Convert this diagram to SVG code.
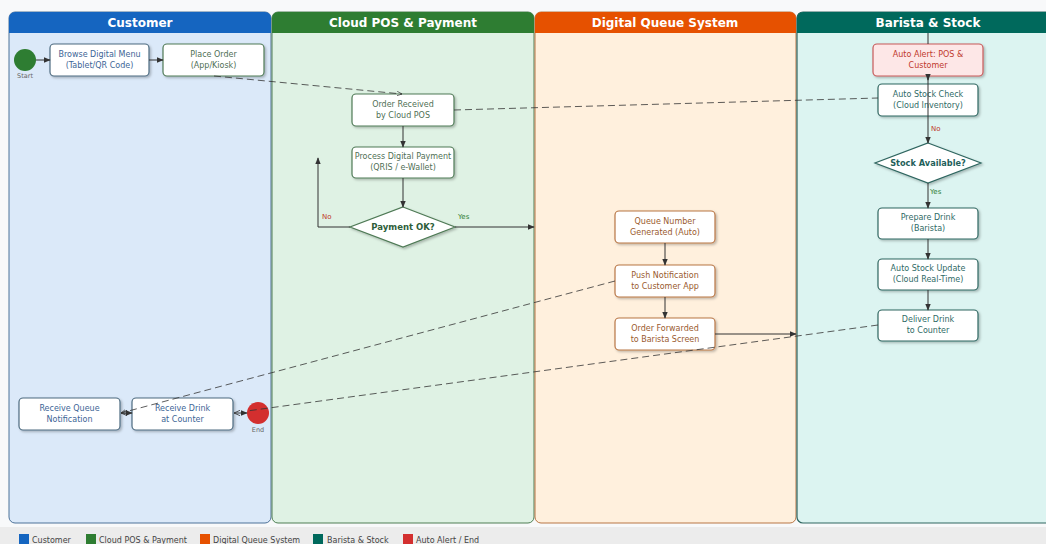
<svg xmlns="http://www.w3.org/2000/svg" width="1046" height="544" viewBox="0 0 1046 544">
  <defs>
    <style>
      text { font-family: "DejaVu Sans", "Liberation Sans", sans-serif; }
      .hdr { font-size: 12px; font-weight: bold; fill: #ffffff; text-anchor: middle; }
      .lbl { font-size: 8px; text-anchor: middle; }
      .small { font-size: 6.5px; fill: #666; text-anchor: middle; }
      .node { fill: #ffffff; stroke-width: 1.2; filter: url(#shadow); }
      .cust { stroke: #4d6b80; }
      .cust-t { fill: #3d6596; }
      .pos { stroke: #4f7a56; }
      .pos-t { fill: #4f6f55; }
      .que { stroke: #b87645; }
      .que-t { fill: #9a5a2e; }
      .bar { stroke: #2f6660; }
      .bar-t { fill: #2f6a66; }
      .alert { fill: #fde7e7; stroke: #c75a5a; }
      .alert-t { fill: #c0392b; }
      .flow { stroke: #333; stroke-width: 1; fill: none; }
      .dash { stroke: #333; stroke-width: 0.8; fill: none; stroke-dasharray: 7 4; }
      .leg { font-size: 8px; fill: #444; }
    </style>
    <marker id="arr" viewBox="0 0 10 10" refX="9" refY="5" markerWidth="7" markerHeight="7" orient="auto-start-reverse">
      <path d="M0,1 L10,5 L0,9 Z" fill="#333"/>
    </marker>
    <marker id="open" viewBox="0 0 10 10" refX="9" refY="5" markerWidth="7" markerHeight="7" orient="auto-start-reverse">
      <path d="M0,1 L9,5 L0,9" fill="none" stroke="#333" stroke-width="1.2"/>
    </marker>
    <filter id="shadow" x="-10%" y="-10%" width="130%" height="140%">
      <feDropShadow dx="1.5" dy="1.5" stdDeviation="0.8" flood-color="#000" flood-opacity="0.25"/>
    </filter>
  </defs>

  <rect x="0" y="0" width="1046" height="544" fill="#f8f9fa"/>

  <!-- swimlanes -->
  <g id="lane-customer">
    <rect x="9" y="12" width="262" height="511" rx="6" fill="#dbe9f9" stroke="#4d7299" stroke-width="1"/>
    <path d="M9,33 V18 a6,6 0 0 1 6,-6 H265 a6,6 0 0 1 6,6 V33 Z" fill="#1565c0"/>
    <text class="hdr" x="140" y="27">Customer</text>
  </g>
  <g id="lane-pos">
    <rect x="272" y="12" width="262" height="511" rx="6" fill="#dff2e4" stroke="#4f7f55" stroke-width="1"/>
    <path d="M272,33 V18 a6,6 0 0 1 6,-6 H528 a6,6 0 0 1 6,6 V33 Z" fill="#2e7d32"/>
    <text class="hdr" x="403" y="27">Cloud POS &amp; Payment</text>
  </g>
  <g id="lane-queue">
    <rect x="535" y="12" width="261" height="511" rx="6" fill="#fff0dd" stroke="#b87645" stroke-width="1"/>
    <path d="M535,33 V18 a6,6 0 0 1 6,-6 H790 a6,6 0 0 1 6,6 V33 Z" fill="#e65100"/>
    <text class="hdr" x="665" y="27">Digital Queue System</text>
  </g>
  <g id="lane-barista">
    <rect x="797" y="12" width="262" height="511" rx="6" fill="#dcf4f1" stroke="#2f6660" stroke-width="1.2"/>
    <path d="M797,33 V18 a6,6 0 0 1 6,-6 H1053 V33 Z" fill="#00695c"/>
    <text class="hdr" x="928" y="27">Barista &amp; Stock</text>
  </g>

  <!-- customer lane nodes -->
  <g id="start">
    <circle cx="25" cy="60" r="11" fill="#2e7d32"/>
    <text class="small" x="25" y="78">Start</text>
  </g>
  <g id="browse-menu">
    <rect class="node cust" x="50" y="44" width="99" height="32" rx="4"/>
    <text class="lbl cust-t" x="99.5" y="57">Browse Digital Menu</text>
    <text class="lbl cust-t" x="99.5" y="68">(Tablet/QR Code)</text>
  </g>
  <g id="place-order">
    <rect class="node pos" x="163" y="44" width="101" height="32" rx="4"/>
    <text class="lbl pos-t" x="213.5" y="57">Place Order</text>
    <text class="lbl pos-t" x="213.5" y="68">(App/Kiosk)</text>
  </g>
  <g id="receive-queue">
    <rect class="node cust" x="19" y="398" width="101" height="32" rx="4"/>
    <text class="lbl cust-t" x="69.5" y="411">Receive Queue</text>
    <text class="lbl cust-t" x="69.5" y="422">Notification</text>
  </g>
  <g id="receive-drink">
    <rect class="node cust" x="132" y="398" width="101" height="32" rx="4"/>
    <text class="lbl cust-t" x="182.5" y="411">Receive Drink</text>
    <text class="lbl cust-t" x="182.5" y="422">at Counter</text>
  </g>
  <g id="end">
    <circle cx="258" cy="413" r="11" fill="#d32f2f"/>
    <text class="small" x="258" y="432">End</text>
  </g>

  <!-- cloud POS lane nodes -->
  <g id="order-received">
    <rect class="node pos" x="352" y="94" width="102" height="32" rx="4"/>
    <text class="lbl pos-t" x="403" y="107">Order Received</text>
    <text class="lbl pos-t" x="403" y="118">by Cloud POS</text>
  </g>
  <g id="process-payment">
    <rect class="node pos" x="352" y="147" width="102" height="31" rx="4"/>
    <text class="lbl pos-t" x="403" y="159">Process Digital Payment</text>
    <text class="lbl pos-t" x="403" y="170">(QRIS / e-Wallet)</text>
  </g>
  <g id="payment-ok">
    <polygon class="node pos" points="403,207 455,227 403,247 350,227"/>
    <text x="403" y="230" font-size="8.5" font-weight="bold" fill="#2e5e3a" text-anchor="middle">Payment OK?</text>
  </g>

  <!-- queue lane nodes -->
  <g id="queue-number">
    <rect class="node que" x="615" y="211" width="100" height="32" rx="4"/>
    <text class="lbl que-t" x="665" y="224">Queue Number</text>
    <text class="lbl que-t" x="665" y="235">Generated (Auto)</text>
  </g>
  <g id="push-notification">
    <rect class="node que" x="615" y="265" width="100" height="32" rx="4"/>
    <text class="lbl que-t" x="665" y="278">Push Notification</text>
    <text class="lbl que-t" x="665" y="289">to Customer App</text>
  </g>
  <g id="order-forwarded">
    <rect class="node que" x="615" y="318" width="100" height="32" rx="4"/>
    <text class="lbl que-t" x="665" y="331">Order Forwarded</text>
    <text class="lbl que-t" x="665" y="342">to Barista Screen</text>
  </g>

  <!-- barista lane nodes -->
  <g id="auto-alert">
    <rect class="node alert" x="873" y="44" width="110" height="32" rx="4"/>
    <text class="lbl alert-t" x="928" y="57">Auto Alert: POS &amp;</text>
    <text class="lbl alert-t" x="928" y="68">Customer</text>
  </g>
  <g id="stock-check">
    <rect class="node bar" x="878" y="84" width="100" height="32" rx="4"/>
    <text class="lbl bar-t" x="928" y="97">Auto Stock Check</text>
    <text class="lbl bar-t" x="928" y="108">(Cloud Inventory)</text>
  </g>
  <g id="stock-available">
    <polygon class="node bar" points="928,143 981,163 928,183 875,163"/>
    <text x="928" y="166" font-size="8.2" font-weight="bold" fill="#1f5f5a" text-anchor="middle">Stock Available?</text>
  </g>
  <g id="prepare-drink">
    <rect class="node bar" x="878" y="208" width="100" height="31" rx="4"/>
    <text class="lbl bar-t" x="928" y="220">Prepare Drink</text>
    <text class="lbl bar-t" x="928" y="231">(Barista)</text>
  </g>
  <g id="stock-update">
    <rect class="node bar" x="878" y="259" width="100" height="31" rx="4"/>
    <text class="lbl bar-t" x="928" y="271">Auto Stock Update</text>
    <text class="lbl bar-t" x="928" y="282">(Cloud Real-Time)</text>
  </g>
  <g id="deliver-drink">
    <rect class="node bar" x="878" y="310" width="100" height="31" rx="4"/>
    <text class="lbl bar-t" x="928" y="322">Deliver Drink</text>
    <text class="lbl bar-t" x="928" y="333">to Counter</text>
  </g>

  <!-- connectors (drawn over the nodes) -->
  <g id="connectors">
    <line class="flow" x1="36" y1="60" x2="50" y2="60" marker-end="url(#arr)"/>
    <line class="flow" x1="149" y1="60" x2="163" y2="60" marker-end="url(#arr)"/>
    <line class="dash" x1="214" y1="76" x2="402" y2="94" marker-end="url(#open)"/>
    <line class="dash" x1="454" y1="110" x2="878" y2="98"/>
    <line class="flow" x1="403" y1="126" x2="403" y2="147" marker-end="url(#arr)"/>
    <line class="flow" x1="403" y1="178" x2="403" y2="207" marker-end="url(#arr)"/>
    <polyline class="flow" points="350,227 318,227 318,158" marker-end="url(#arr)"/>
    <line class="flow" x1="455" y1="227" x2="534" y2="227" marker-end="url(#arr)"/>
    <line class="flow" x1="665" y1="243" x2="665" y2="265" marker-end="url(#arr)"/>
    <line class="flow" x1="665" y1="297" x2="665" y2="318" marker-end="url(#arr)"/>
    <line class="flow" x1="715" y1="334" x2="796" y2="334" marker-end="url(#arr)"/>
    <line class="dash" x1="615" y1="281" x2="121" y2="413" marker-end="url(#open)"/>
    <line class="dash" x1="878" y1="325" x2="247" y2="411"/>
    <line class="flow" x1="928" y1="33" x2="928" y2="44"/>
    <line class="flow" x1="928" y1="74" x2="928" y2="80" marker-end="url(#arr)"/>
    <line class="flow" x1="928" y1="76" x2="928" y2="143" marker-end="url(#arr)"/>
    <line class="flow" x1="928" y1="183" x2="928" y2="208" marker-end="url(#arr)"/>
    <line class="flow" x1="928" y1="239" x2="928" y2="259" marker-end="url(#arr)"/>
    <line class="flow" x1="928" y1="290" x2="928" y2="310" marker-end="url(#arr)"/>
    <line class="flow" x1="121" y1="413" x2="132" y2="413" marker-start="url(#open)" marker-end="url(#arr)"/>
    <line class="flow" x1="234" y1="413" x2="247" y2="413" marker-start="url(#open)" marker-end="url(#arr)"/>
    <text x="322" y="219" font-size="7" fill="#c0392b">No</text>
    <text x="458" y="219" font-size="7" fill="#2e7d32">Yes</text>
    <text x="931" y="131" font-size="7" fill="#c0392b">No</text>
    <text x="930" y="194" font-size="7" fill="#2e7d32">Yes</text>
  </g>

  <!-- legend -->
  <g id="legend">
    <rect x="0" y="527" width="1046" height="17" fill="#ececec"/>
    <rect x="19" y="534" width="10" height="10" fill="#1565c0"/>
    <text class="leg" x="32" y="543">Customer</text>
    <rect x="86" y="534" width="10" height="10" fill="#2e7d32"/>
    <text class="leg" x="99" y="543">Cloud POS &amp; Payment</text>
    <rect x="200" y="534" width="10" height="10" fill="#e65100"/>
    <text class="leg" x="213" y="543">Digital Queue System</text>
    <rect x="313" y="534" width="10" height="10" fill="#00695c"/>
    <text class="leg" x="327" y="543">Barista &amp; Stock</text>
    <rect x="403" y="534" width="10" height="10" fill="#d32f2f"/>
    <text class="leg" x="416" y="543">Auto Alert / End</text>
  </g>
</svg>
